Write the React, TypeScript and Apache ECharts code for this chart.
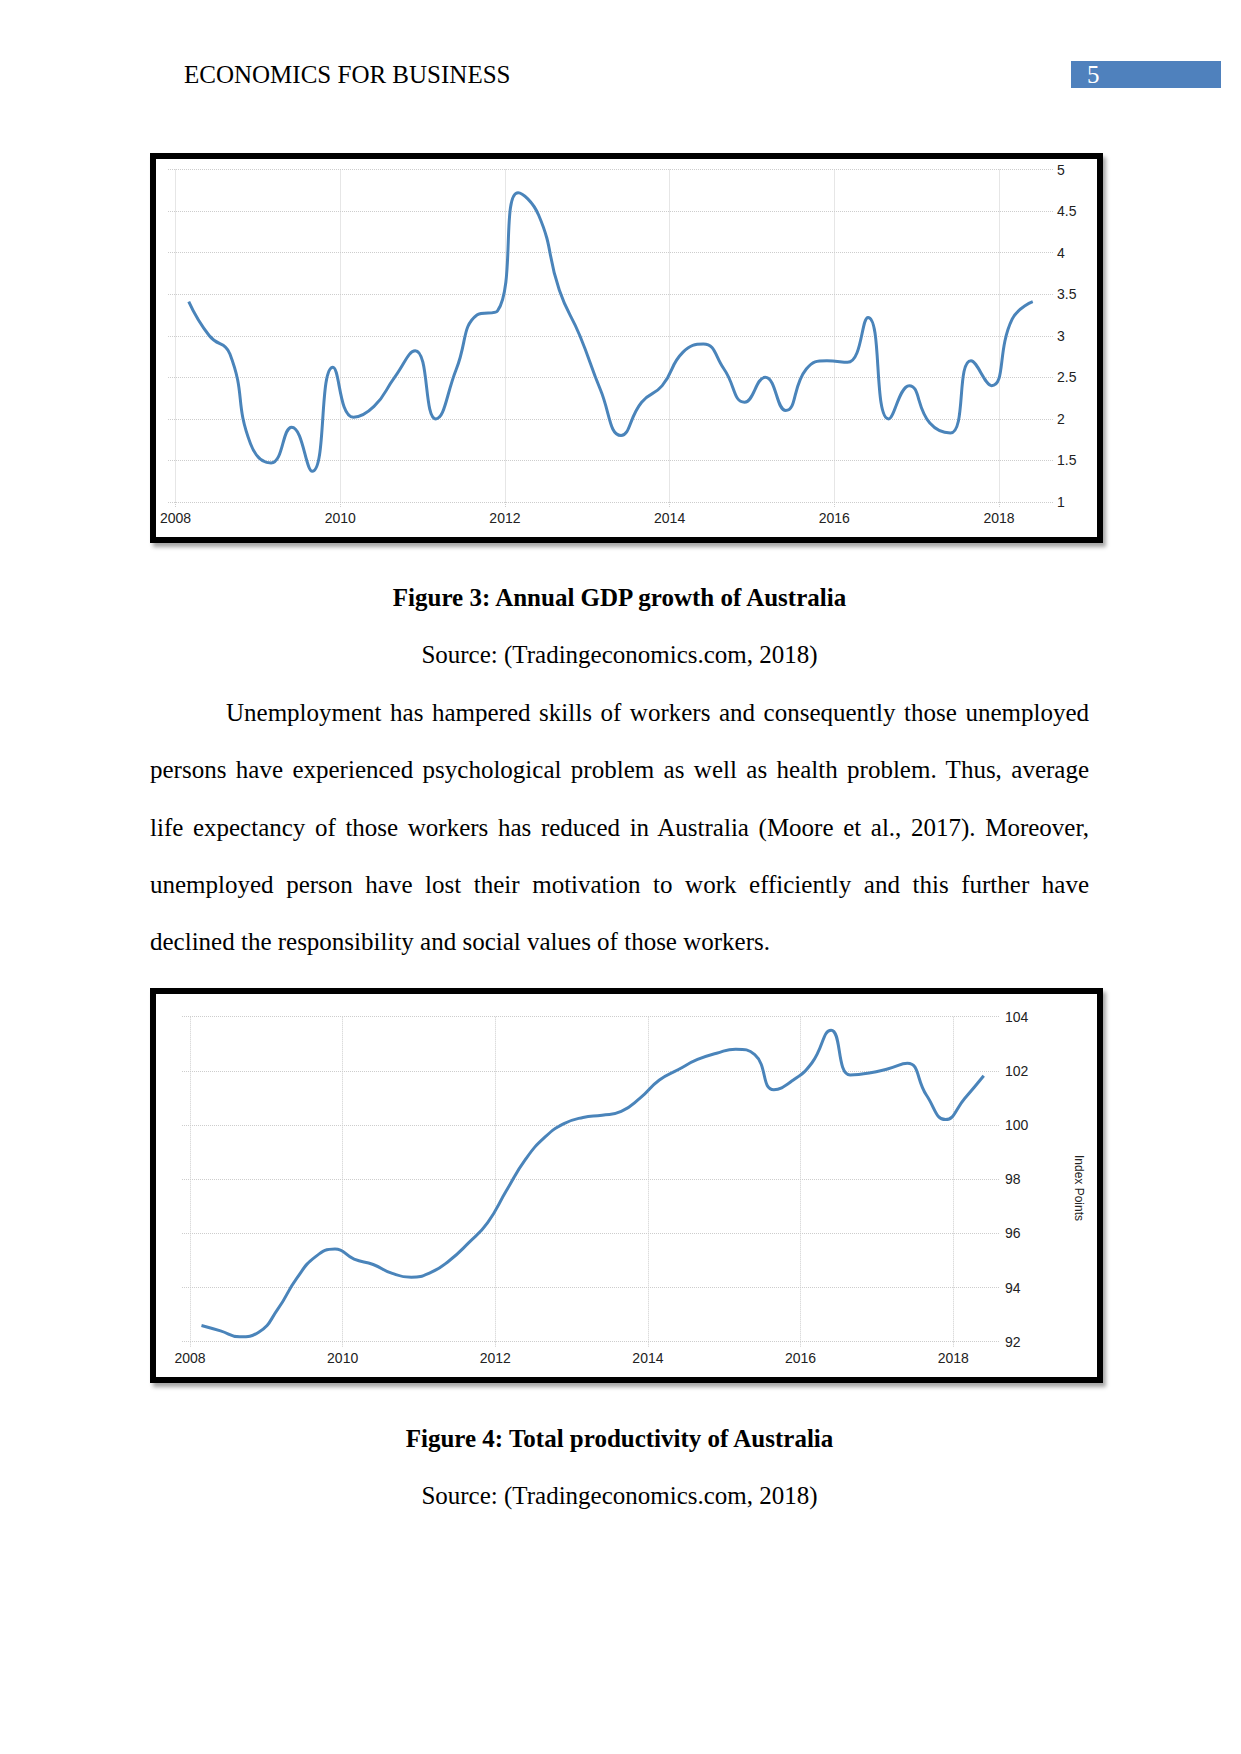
import React, { useEffect, useRef } from "react";
import * as echarts from "echarts";

// ---------- DATA ----------
const yearTicks = [2008, 2010, 2012, 2014, 2016, 2018];
const quarterLabels: string[] = [];
for (let y = 2008; y <= 2018; y++) {
  for (let q = 1; q <= 4; q++) {
    if (y === 2018 && q > 2) break;
    quarterLabels.push(`${y}Q${q}`);
  }
}
// decimal-year position of each quarterly observation as plotted by the source
const quarterPos = (label: string, offset: number) => {
  const y = parseInt(label.slice(0, 4), 10);
  const q = parseInt(label.slice(5), 10);
  return y + (q - 1) * 0.25 + offset;
};

const gdpGrowth = [
  3.41, 3.0, 2.78, 1.7, 1.47, 1.9, 1.37, 2.62, 2.02, 2.15, 2.5, 2.82, 2.0, 2.6,
  3.25, 3.3, 4.72, 4.45, 3.55, 3.0, 2.35, 1.8, 2.2, 2.4, 2.8, 2.9, 2.6, 2.2, 2.5,
  2.1, 2.6, 2.7, 2.68, 3.22, 2.0, 2.4, 1.95, 1.83, 2.7, 2.4, 3.2, 3.41,
];
const gdpTicks = [1, 1.5, 2, 2.5, 3, 3.5, 4, 4.5, 5];

const productivity = [
  92.6, 92.4, 92.18, 92.35, 93.2, 94.35, 95.15, 95.42, 95.05, 94.85, 94.52,
  94.38, 94.55, 95.0, 95.65, 96.4, 97.6, 98.75, 99.55, 100.05, 100.28, 100.36,
  100.5, 101.0, 101.66, 102.05, 102.42, 102.65, 102.8, 102.6, 101.3, 101.65,
  102.3, 103.5, 101.85, 101.92, 102.08, 102.28, 101.1, 100.2, 100.98, 101.82,
];
const productivityTicks = [92, 94, 96, 98, 100, 102, 104];

// ---------- STYLE ----------
const LINE_COLOR = "#4a84ba";
const GRID_COLOR = "#cdcdcd";
const LABEL_FONT = "Liberation Sans, Arial, sans-serif";
const LABEL_COLOR = "#222";
const SERIF = "'Liberation Serif', 'Times New Roman', serif";

function Chart({ option, width, height }: { option: any; width: number; height: number }) {
  const ref = useRef<HTMLDivElement>(null);
  useEffect(() => {
    if (!ref.current) return;
    const chart = echarts.init(ref.current, undefined, { renderer: "svg" });
    chart.setOption(option);
    return () => chart.dispose();
  }, [option]);
  return <div ref={ref} style={{ width, height }} />;
}

function xAxisOpt(min: number, max: number) {
  return {
    type: "value",
    min,
    max,
    axisLine: { show: false },
    axisTick: {
      show: true,
      length: 5,
      customValues: yearTicks,
      lineStyle: { color: GRID_COLOR, type: "dotted" },
    },
    axisLabel: {
      customValues: yearTicks,
      fontFamily: LABEL_FONT,
      fontSize: 14,
      color: LABEL_COLOR,
      margin: 9,
      formatter: (v: number) => String(Math.round(v)),
    },
    splitLine: { show: true, lineStyle: { color: GRID_COLOR, type: "dotted", width: 1 } },
  };
}

function yAxisOpt(min: number, max: number, interval: number, margin: number) {
  return {
    type: "value",
    position: "right",
    min,
    max,
    interval,
    axisLine: { show: false },
    axisTick: { show: false },
    axisLabel: { fontFamily: LABEL_FONT, fontSize: 14, color: LABEL_COLOR, margin },
    splitLine: { show: true, lineStyle: { color: GRID_COLOR, type: "dotted", width: 1 } },
  };
}

const gdpOption = {
  animation: false,
  backgroundColor: "#ffffff",
  grid: { left: 12, right: 44, top: 10.5, bottom: 35 },
  xAxis: xAxisOpt(2007.908, 2018.656),
  yAxis: yAxisOpt(gdpTicks[0], gdpTicks[gdpTicks.length - 1], 0.5, 4),
  series: [
    {
      type: "line",
      data: gdpGrowth.map((v, i) => [quarterPos(quarterLabels[i], 0.16), v]),
      smooth: 0.5,
      showSymbol: false,
      lineStyle: { color: LINE_COLOR, width: 3 },
    },
  ],
};

const prodOption = {
  animation: false,
  backgroundColor: "#ffffff",
  grid: { left: 26, right: 98, top: 22.7, bottom: 35.3 },
  xAxis: xAxisOpt(2007.895, 2018.6),
  yAxis: yAxisOpt(productivityTicks[0], productivityTicks[productivityTicks.length - 1], 2, 6),
  graphic: [
    {
      type: "text",
      x: 923,
      y: 194,
      rotation: -Math.PI / 2,
      style: {
        text: "Index Points",
        fontFamily: LABEL_FONT,
        fontSize: 12,
        fill: LABEL_COLOR,
        align: "center",
        verticalAlign: "middle",
      },
    },
  ],
  series: [
    {
      type: "line",
      data: productivity.map((v, i) => [quarterPos(quarterLabels[i], 0.15), v]),
      smooth: 0.5,
      showSymbol: false,
      lineStyle: { color: LINE_COLOR, width: 3 },
    },
  ],
};

const paragraphLines = [
  "Unemployment has hampered skills of workers and consequently those unemployed",
  "persons have experienced psychological problem as well as health problem. Thus, average",
  "life expectancy of those workers has reduced in Australia (Moore et al., 2017). Moreover,",
  "unemployed person have lost their motivation to work efficiently and this further have",
  "declined the responsibility and social values of those workers.",
];

const LH = 57.3;

function Frame({ top, height, option }: { top: number; height: number; option: any }) {
  return (
    <div
      style={{
        position: "absolute",
        left: 150,
        top,
        width: 941,
        height: height - 12,
        border: "6px solid #000",
        boxShadow: "3px 4px 4px rgba(0,0,0,0.35)",
        background: "#fff",
      }}
    >
      <Chart option={option} width={941} height={height - 12} />
    </div>
  );
}

function TextLine({ top, children, style }: { top: number; children: any; style?: any }) {
  return (
    <div
      style={{
        position: "absolute",
        left: 150,
        width: 939,
        top: top - LH / 2,
        height: LH,
        lineHeight: `${LH}px`,
        fontFamily: SERIF,
        fontSize: 25,
        color: "#000",
        whiteSpace: "nowrap",
        ...style,
      }}
    >
      {children}
    </div>
  );
}

export default function App() {
  const paraCenters = [712.8, 769.9, 828, 885, 942];
  return (
    <div
      style={{
        position: "absolute",
        left: 0,
        top: 0,
        width: 1241,
        height: 1754,
        background: "#fff",
        overflow: "hidden",
      }}
    >
      {/* header */}
      <div
        style={{
          position: "absolute",
          left: 184,
          top: 60,
          height: 30,
          lineHeight: "30px",
          fontFamily: SERIF,
          fontSize: 25,
          color: "#000",
          whiteSpace: "nowrap",
        }}
      >
        ECONOMICS FOR BUSINESS
      </div>
      <div
        style={{
          position: "absolute",
          left: 1071,
          top: 61,
          width: 150,
          height: 27,
          background: "#4f81bd",
        }}
      >
        <div
          style={{
            position: "absolute",
            left: 16,
            top: -1,
            lineHeight: "29px",
            fontFamily: SERIF,
            fontSize: 25,
            color: "#fff",
          }}
        >
          5
        </div>
      </div>

      <Frame top={153} height={390} option={gdpOption} />

      <TextLine top={597.5} style={{ textAlign: "center", fontWeight: "bold" }}>
        Figure 3: Annual GDP growth of Australia
      </TextLine>
      <TextLine top={654.6} style={{ textAlign: "center" }}>
        Source: (Tradingeconomics.com, 2018)
      </TextLine>

      {paragraphLines.map((line, i) => {
        const last = i === paragraphLines.length - 1;
        return (
          <TextLine
            key={i}
            top={paraCenters[i]}
            style={{
              textAlign: last ? "left" : "justify",
              textAlignLast: last ? "left" : "justify",
              textIndent: i === 0 ? 76 : 0,
              whiteSpace: "normal",
            }}
          >
            {line}
          </TextLine>
        );
      })}

      <Frame top={988} height={395} option={prodOption} />

      <TextLine top={1439} style={{ textAlign: "center", fontWeight: "bold" }}>
        Figure 4: Total productivity of Australia
      </TextLine>
      <TextLine top={1496} style={{ textAlign: "center" }}>
        Source: (Tradingeconomics.com, 2018)
      </TextLine>
    </div>
  );
}
